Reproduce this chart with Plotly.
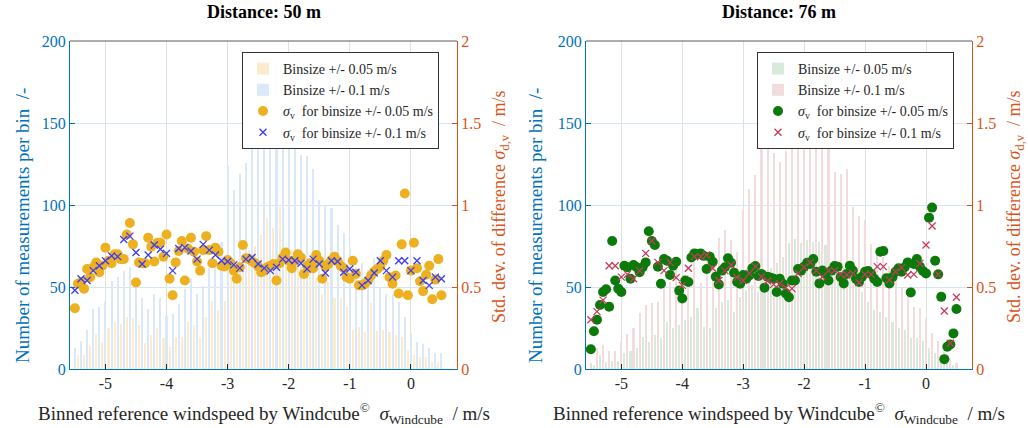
import numpy as np
import plotly.graph_objects as go

# ---------------- data ----------------
# bin centres (m/s)
x_coarse = np.round(np.arange(-5.5, 0.501, 0.1), 2)      # 61 centres, binsize +/- 0.1
x_fine_bar = np.round(np.arange(-5.45, 0.451, 0.1), 2)   # 60 bar positions, binsize +/- 0.05
x_fine = np.round(np.arange(-5.5, 0.501, 0.05), 2)       # 121 sigma points, binsize +/- 0.05

xtick_vals = [-5, -4, -3, -2, -1, 0]
xtick_text = ["-5", "-4", "-3", "-2", "-1", "0"]
ytick_count = [0, 50, 100, 150, 200]
ytick_sigma = [0, 0.5, 1, 1.5, 2]
ytick_sigma_text = ["0", "0.5", "1", "1.5", "2"]

# ---- Distance 50 m ----
count50_01 = [12.6, 17.3, 23.8, 36.6, 38, 41.7, 53.7, 56.3, 59.8, 62.4, 54.9, 43.1, 36.6, 45.7, 43.5,
              32.5, 33.5, 39.4, 48.8, 55.3, 45.7, 50.8, 61.8, 66, 77.6, 124, 109, 118.7, 125.8, 142, 145,
              144, 147, 146, 148, 143, 135.6, 130.5, 130, 122, 103, 100, 98, 88, 83, 72.6, 62.4, 64.4,
              60.4, 67.5, 49.2, 46, 45.5, 41, 31.9, 21.7, 16.7, 15, 12.6, 9.6, 9.6]
count50_005 = [8.5, 8.5, 14.2, 21.3, 16.7, 24.8, 28.5, 27.4, 31.9, 30.9, 26.8, 15.7, 20.7, 24.8, 18.7,
               13.6, 19.7, 19.7, 28.9, 26.8, 18.7, 31.9, 41.5, 36, 41.7, 56.3, 54.3, 65.4, 72.6, 75, 82,
               91.9, 85.8, 99, 73.6, 72.6, 70.5, 64.4, 62.4, 55.3, 45.5, 53.3, 43.1, 43.5, 38, 23.8,
               25.8, 22.8, 40.4, 23.2, 23.8, 22.8, 20.7, 19.7, 11.6, 8.5, 7.5, 7.5, 4.5, 4.5]
sigma50_005 = [0.37, 0.52, 0.53, 0.49, 0.61, 0.56, 0.62, 0.65, 0.59, 0.63,
               0.74, 0.66, 0.645, 0.70, 0.70, 0.67, 0.67, 0.82, 0.89, 0.76,
               0.527, 0.65, 0.645, 0.645, 0.80, 0.745, 0.655, 0.77, 0.77, 0.685,
               0.82, 0.55, 0.45, 0.65, 0.72, 0.78, 0.54, 0.735, 0.80, 0.715,
               0.655, 0.60, 0.725, 0.81, 0.725, 0.645, 0.74, 0.715, 0.63, 0.625,
               0.665, 0.645, 0.60, 0.55, 0.62, 0.756, 0.675, 0.67, 0.655, 0.645,
               0.625, 0.59,
               0.60, 0.62, 0.63, 0.64, 0.54, 0.645, 0.68, 0.71, 0.66, 0.615,
               0.66, 0.70, 0.68, 0.58, 0.63, 0.645, 0.615, 0.695, 0.66, 0.55,
               0.625, 0.64, 0.665, 0.685, 0.66, 0.63, 0.615, 0.56, 0.55, 0.66,
               0.58, 0.51, 0.51, 0.52, 0.54, 0.57, 0.595, 0.61, 0.625, 0.66,
               0.695, 0.56, 0.52, 0.57, 0.46, 0.76, 1.07, 0.45, 0.60, 0.77,
               0.615, 0.535, 0.475, 0.575, 0.63, 0.425, 0.545, 0.67, 0.45]
sigma50_01 = [0.48, 0.55, 0.54, 0.60, 0.63, 0.66, 0.69, 0.685, 0.79, 0.81, 0.71, 0.64, 0.695, 0.756,
              0.73, 0.705, 0.60, 0.735, 0.74, 0.72, 0.67, 0.76, 0.725, 0.695, 0.66, 0.655, 0.635,
              0.615, 0.67, 0.68, 0.64,
              0.615, 0.60, 0.62, 0.67, 0.665, 0.66, 0.645, 0.61, 0.67, 0.64, 0.585, 0.66, 0.655,
              0.59, 0.61, 0.59, 0.51, 0.54, 0.585, 0.66, 0.60, 0.56, 0.66, 0.66, 0.60, 0.66, 0.54,
              0.51, 0.56, 0.55]

# ---- Distance 76 m ----
count76_01 = [3.5, 12.6, 14.6, 11, 11, 16.3, 21.3, 24.8, 34, 39, 40, 41, 49.2, 53.3, 60.4,
              50.2, 57.3, 65.4, 52.2, 65.4, 69.5, 79.7, 84.8, 78.7, 71.5, 97, 110, 118, 138, 139, 132,
              126, 133, 142, 145, 147, 148, 146, 144, 141, 120, 119, 122, 99, 93, 91, 76, 72.6, 68,
              63, 56, 50, 46, 38, 37, 31, 22, 17, 10.6, 6.5, 3.5]
count76_005 = [2.4, 8.5, 4.5, 4.9, 4.9, 9.6, 11, 12.6, 19.7, 16.7, 20.7, 18.7, 28.9, 24.8, 26.8,
               29.9, 31.9, 37, 25.8, 24.8, 37, 41, 42, 35, 44, 48, 51, 47, 59.3, 61.4, 64.4,
               68.5, 76.6, 79.3, 76.6, 78.7, 77.6, 77.6, 75.6, 65.4, 62.4, 61.4, 61.4, 50.2, 47.2,
               41, 36, 35, 31.9, 28.9, 24.8, 23.8, 18.7, 18.7, 17, 12.6, 9.6, 6.9, 4.5, 2.4]
sigma76_005 = [0.12, 0.23, 0.30, 0.39, 0.47, 0.486, 0.38, 0.78, 0.54, 0.49,
               0.47, 0.63, 0.62, 0.55, 0.634, 0.62, 0.59, 0.62, 0.65, 0.84,
               0.78, 0.756, 0.624, 0.52, 0.67, 0.66, 0.573, 0.63, 0.654, 0.478,
               0.43, 0.54, 0.53, 0.68, 0.705, 0.70, 0.705, 0.69, 0.61, 0.685,
               0.654, 0.563, 0.516, 0.60, 0.62, 0.675, 0.648, 0.587, 0.53, 0.52,
               0.573, 0.55, 0.57, 0.614, 0.628, 0.567, 0.58, 0.496, 0.563, 0.557,
               0.55, 0.47, 0.55,
               0.52, 0.46, 0.437, 0.54, 0.54, 0.61, 0.60, 0.624, 0.648, 0.64,
               0.67, 0.593, 0.522, 0.60, 0.58, 0.54, 0.60, 0.628, 0.624, 0.56,
               0.522, 0.58, 0.63, 0.60, 0.55, 0.53, 0.563, 0.593, 0.598, 0.58,
               0.55, 0.53, 0.715, 0.72, 0.553, 0.522, 0.56, 0.593, 0.614, 0.593,
               0.62, 0.65, 0.467, 0.64, 0.67, 0.624, 0.598, 0.583, 0.923, 0.984,
               0.66, 0.577, 0.44, 0.06, 0.136, 0.15, 0.217, 0.366]
sigma76_01 = [0.30, 0.35, 0.42, 0.63, 0.63, 0.56, 0.577, 0.55, 0.60, 0.705, 0.78, 0.65, 0.60, 0.65,
              0.557, 0.51, 0.614, 0.685, 0.685, 0.695, 0.614, 0.54, 0.60, 0.634, 0.557, 0.54, 0.583,
              0.624, 0.563, 0.537, 0.516,
              0.52, 0.496, 0.49, 0.583, 0.62, 0.65, 0.60, 0.563, 0.60, 0.60, 0.577, 0.573, 0.583,
              0.526, 0.577, 0.577, 0.624, 0.624, 0.543, 0.593, 0.618, 0.573, 0.577, 0.644, 0.756,
              0.872, 0.577, 0.354, 0.157, 0.437]

# ---------------- styling ----------------
FONT = "Liberation Serif"
BLUE = "#0072BD"
ORANGE = "#D95319"
DARK = "#262626"
W, H = 1028, 428

dom_L = [70 / W, 457 / W]
dom_R = [586 / W, 972 / W]
dom_Y = [(H - 369) / H, (H - 41) / H]
xrange = [-5.58, 0.755]

fig = go.Figure()

bar_w = 0.034
# Left panel (50 m)
fig.add_trace(go.Bar(x=x_fine_bar, y=count50_005, width=bar_w, marker=dict(color="#FCEBCD", line_width=0),
                     name="Binsize +/- 0.05 m/s", xaxis="x", yaxis="y", legend="legend"))
fig.add_trace(go.Bar(x=x_coarse, y=count50_01, width=bar_w, marker=dict(color="#DAE8F7", line_width=0),
                     name="Binsize +/- 0.1 m/s", xaxis="x", yaxis="y", legend="legend"))
fig.add_trace(go.Scatter(x=x_fine, y=sigma50_005, mode="markers",
                         marker=dict(size=10, color="#EDB120", line_width=0),
                         name="<i>σ</i><sub>v</sub>  for binsize +/- 0.05 m/s",
                         xaxis="x", yaxis="y2", legend="legend"))
fig.add_trace(go.Scatter(x=x_coarse, y=sigma50_01, mode="markers",
                         marker=dict(size=7, symbol="x-thin", line=dict(width=1.3, color="#3B3BF5")),
                         name="<i>σ</i><sub>v</sub>  for binsize +/- 0.1 m/s",
                         xaxis="x", yaxis="y2", legend="legend"))
# Right panel (76 m)
fig.add_trace(go.Bar(x=x_fine_bar, y=count76_005, width=bar_w, marker=dict(color="#D8EBDA", line_width=0),
                     name="Binsize +/- 0.05 m/s", xaxis="x2", yaxis="y3", legend="legend2"))
fig.add_trace(go.Bar(x=x_coarse, y=count76_01, width=bar_w, marker=dict(color="#F3DCDE", line_width=0),
                     name="Binsize +/- 0.1 m/s", xaxis="x2", yaxis="y3", legend="legend2"))
fig.add_trace(go.Scatter(x=x_fine, y=sigma76_005, mode="markers",
                         marker=dict(size=10, color="#0B7A0B", line_width=0),
                         name="<i>σ</i><sub>v</sub>  for binsize +/- 0.05 m/s",
                         xaxis="x2", yaxis="y4", legend="legend2"))
fig.add_trace(go.Scatter(x=x_coarse, y=sigma76_01, mode="markers",
                         marker=dict(size=7, symbol="x-thin", line=dict(width=1.3, color="#C43A5C")),
                         name="<i>σ</i><sub>v</sub>  for binsize +/- 0.1 m/s",
                         xaxis="x2", yaxis="y4", legend="legend2"))


def xax(domain, anchor):
    return dict(domain=domain, anchor=anchor, range=xrange, tickvals=xtick_vals, ticktext=xtick_text,
                ticks="inside", ticklen=5, tickcolor=DARK, tickwidth=1, automargin=False,
                showline=True, linecolor=BLUE, linewidth=1, mirror=False,
                showgrid=True, gridcolor="#E0E0E0", gridwidth=1, zeroline=False,
                tickfont=dict(family=FONT, size=16, color=DARK))


def ycount(anchor):
    return dict(domain=dom_Y, anchor=anchor, range=[0, 200], tickvals=ytick_count, automargin=False,
                ticks="inside", ticklen=5, tickcolor=BLUE, showline=True, linecolor=BLUE, linewidth=1,
                showgrid=True, gridcolor="#D5E5F3", gridwidth=1, zeroline=False,
                tickfont=dict(family=FONT, size=16, color=BLUE))


def ysigma(over, anchor):
    return dict(overlaying=over, side="right", anchor=anchor, range=[0, 2], tickvals=ytick_sigma,
                ticktext=ytick_sigma_text, ticks="inside", ticklen=5, tickcolor=ORANGE, automargin=False,
                showline=True, linecolor=ORANGE, linewidth=1, showgrid=False, zeroline=False,
                tickfont=dict(family=FONT, size=16, color=ORANGE))


def legend_at(x):
    return dict(x=x, y=(H - 52) / H, xanchor="left", yanchor="top", bgcolor="white",
                bordercolor="#333333", borderwidth=1, font=dict(family=FONT, size=14, color=DARK),
                tracegroupgap=0, itemwidth=30)


fig.update_layout(
    width=W, height=H, margin=dict(l=0, r=0, t=0, b=0, autoexpand=False),
    font=dict(family=FONT, color=DARK),
    paper_bgcolor="white", plot_bgcolor="white", barmode="overlay", bargap=0,
    xaxis=xax(dom_L, "y"), yaxis=ycount("x"), yaxis2=ysigma("y", "x"),
    xaxis2=xax(dom_R, "y3"), yaxis3=ycount("x2"), yaxis4=ysigma("y3", "x2"),
    legend=legend_at(242 / W), legend2=legend_at(757 / W),
    showlegend=True,
)

# top frame line (dark) on each panel
for xr, yr in (("x domain", "y domain"), ("x2 domain", "y3 domain")):
    fig.add_shape(type="line", xref=xr, yref=yr, x0=0, x1=1, y0=1, y1=1,
                  line=dict(color="#5A5A5A", width=1), layer="above")

annots = []
for dom, title in ((dom_L, "Distance: 50 m"), (dom_R, "Distance: 76 m")):
    cx = (dom[0] + dom[1]) / 2
    annots.append(dict(text="<b>" + title + "</b>", x=cx, y=1 - 12 / H, xref="paper", yref="paper",
                       xanchor="center", yanchor="middle",
                       showarrow=False, font=dict(family=FONT, size=18, color="black")))
    annots.append(dict(text="Binned reference windspeed by Windcube<sup>©</sup>  <i>σ</i><sub>Windcube</sub>  / m/s",
                       x=cx, y=1 - 413 / H, xref="paper", yref="paper", showarrow=False,
                       xanchor="center", yanchor="middle",
                       font=dict(family=FONT, size=19, color=DARK)))
for xpx in (22, 535):
    annots.append(dict(text="Number of measurements per bin  /-", x=xpx / W, y=1 - 226 / H,
                       xref="paper", yref="paper", showarrow=False, textangle=-90,
                       xanchor="center", yanchor="middle",
                       font=dict(family=FONT, size=19, color=BLUE)))
for xpx in (500, 1015):
    annots.append(dict(text="Std. dev. of difference <i>σ</i><sub>d,v</sub>  / m/s", x=xpx / W, y=1 - 207 / H,
                       xref="paper", yref="paper", showarrow=False, textangle=-90,
                       xanchor="center", yanchor="middle",
                       font=dict(family=FONT, size=18, color=ORANGE)))
fig.update_layout(annotations=annots)

fig.write_html("out.html", config={"displayModeBar": False},
               post_script="document.body.style.margin='0';document.body.style.overflow='hidden';")
